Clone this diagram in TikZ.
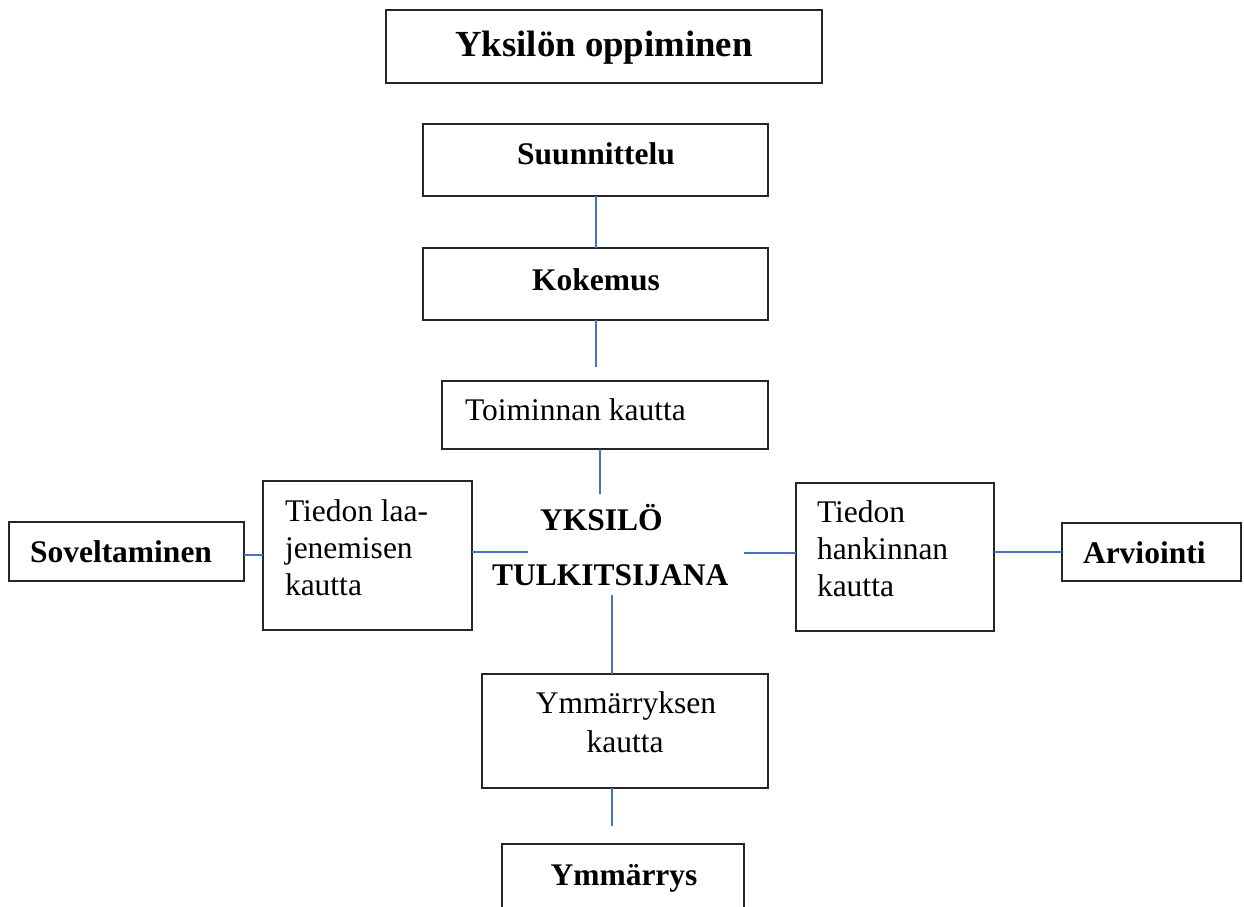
\documentclass[tikz,border=0pt]{standalone}
\usepackage{fontspec}
\setmainfont{Liberation Serif}
\definecolor{conn}{RGB}{68,114,196}
\tikzset{
  box/.style={draw=black!85, line width=1.2pt, inner sep=0pt, outer sep=0pt, fill=none},
  conline/.style={draw=conn, line width=1.6pt},
  txt/.style={inner sep=0pt, outer sep=0pt, font=\fontsize{31.5}{37}\selectfont},
  btxt/.style={inner sep=0pt, outer sep=0pt, font=\fontsize{31.5}{37}\selectfont\bfseries},
  ttxt/.style={inner sep=0pt, outer sep=0pt, font=\fontsize{36.75}{44}\selectfont\bfseries}
}
\begin{document}
\begin{tikzpicture}[x=1pt,y=-1pt]
\clip (0,0) rectangle (1244,906);
\fill[white] (0,0) rectangle (1244,906);
% boxes
\node[box, minimum width=436pt, minimum height=73pt] (title) at (604,46.5) {};
\node[box, minimum width=345pt, minimum height=72pt] (suun) at (595.5,160) {};
\node[box, minimum width=345pt, minimum height=72pt] (kok) at (595.5,284) {};
\node[box, minimum width=326pt, minimum height=68pt] (toim) at (605,415) {};
\node[box, minimum width=209pt, minimum height=149pt] (laa) at (367.5,555.5) {};
\node[box, minimum width=235pt, minimum height=59pt] (sov) at (126.5,551.5) {};
\node[box, minimum width=198pt, minimum height=148pt] (hank) at (895,557) {};
\node[box, minimum width=179pt, minimum height=58pt] (arv) at (1151.5,552) {};
\node[box, minimum width=286pt, minimum height=114pt] (ymk) at (625,731) {};
\node[box, minimum width=242pt, minimum height=100pt] (ymm) at (623,894) {};
% texts
\node[ttxt, anchor=base] (tTitle) at (604,56) {Yksilön oppiminen};
\node[btxt, anchor=base] (tSuun) at (596,164) {Suunnittelu};
\node[btxt, anchor=base] (tKok) at (596,290) {Kokemus};
\node[txt, anchor=base west] (tToim) at (465,420) {Toiminnan kautta};
\node[txt, anchor=base west] (tLaa1) at (285,521) {Tiedon laa-};
\node[txt, anchor=base west] (tLaa2) at (285,558) {jenemisen};
\node[txt, anchor=base west] (tLaa3) at (285,595) {kautta};
\node[btxt, anchor=base west] (tSov) at (30,562) {Soveltaminen};
\node[btxt, anchor=base west] (tYks1) at (540,530) {YKSILÖ};
\node[btxt, anchor=base west] (tYks2) at (492,585) {TULKITSIJANA};
\node[txt, anchor=base west] (tHank1) at (817,522) {Tiedon};
\node[txt, anchor=base west] (tHank2) at (817,559) {hankinnan};
\node[txt, anchor=base west] (tHank3) at (817,596) {kautta};
\node[btxt, anchor=base west] (tArv) at (1083,563) {Arviointi};
\node[txt, anchor=base] (tYmk1) at (626,713) {Ymmärryksen};
\node[txt, anchor=base] (tYmk2) at (625,752) {kautta};
\node[btxt, anchor=base] (tYmm) at (624,885) {Ymmärrys};
% free ends
\coordinate (c0) at (596,0);
\coordinate (c1) at (596,367);
\coordinate (c2) at (600,494);
\coordinate (c3) at (528,552);
\coordinate (c4) at (744,553);
\coordinate (c5) at (612,595);
\coordinate (c6) at (612,826);
\coordinate (c7) at (0,555);
% connectors
\draw[conline] (c0 |- suun.south) -- (c0 |- kok.north);
\draw[conline] (c1 |- kok.south) -- (c1);
\draw[conline] (c2 |- toim.south) -- (c2);
\draw[conline] (c3 -| laa.east) -- (c3);
\draw[conline] (c4) -- (c4 -| hank.west);
\draw[conline] (c7 -| sov.east) -- (c7 -| laa.west);
\draw[conline] (arv.west -| hank.east) -- (arv.west);
\draw[conline] (c5) -- (c5 |- ymk.north);
\draw[conline] (c6 |- ymk.south) -- (c6);
\end{tikzpicture}
\end{document}
